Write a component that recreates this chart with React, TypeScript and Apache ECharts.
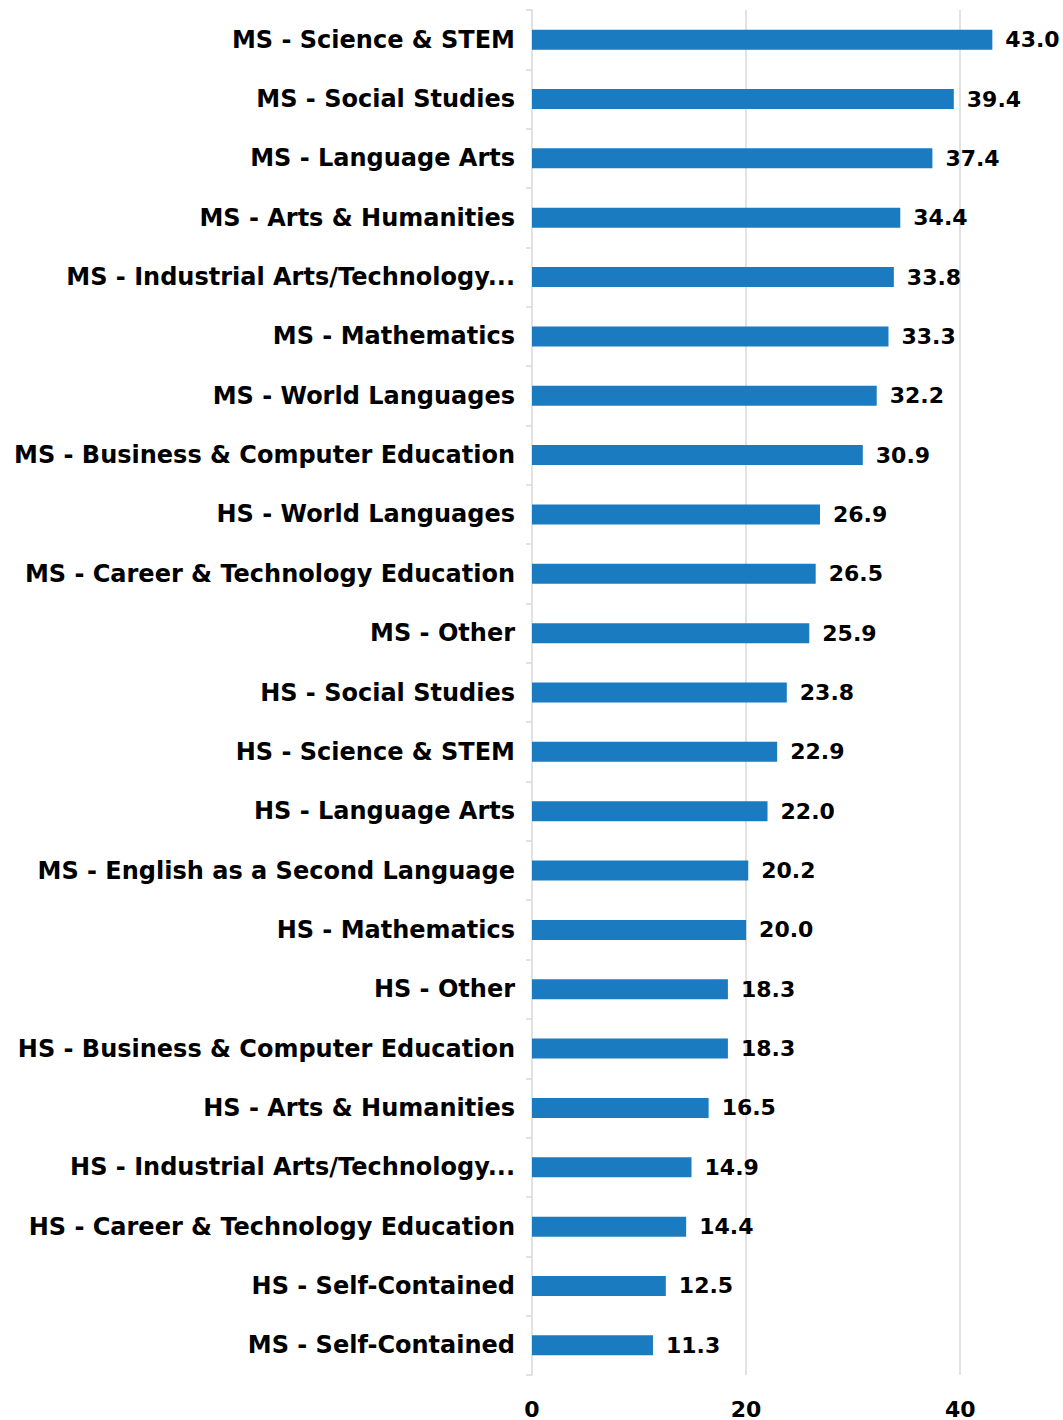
import React, { useEffect, useRef } from "react";
import * as echarts from "echarts";

const categories: string[] = [
  "MS - Science & STEM",
  "MS - Social Studies",
  "MS - Language Arts",
  "MS - Arts & Humanities",
  "MS - Industrial Arts/Technology...",
  "MS - Mathematics",
  "MS - World Languages",
  "MS - Business & Computer Education",
  "HS - World Languages",
  "MS - Career & Technology Education",
  "MS - Other",
  "HS - Social Studies",
  "HS - Science & STEM",
  "HS - Language Arts",
  "MS - English as a Second Language",
  "HS - Mathematics",
  "HS - Other",
  "HS - Business & Computer Education",
  "HS - Arts & Humanities",
  "HS - Industrial Arts/Technology...",
  "HS - Career & Technology Education",
  "HS - Self-Contained",
  "MS - Self-Contained",
];

const values: number[] = [
  43.0, 39.4, 37.4, 34.4, 33.8, 33.3, 32.2, 30.9, 26.9, 26.5, 25.9, 23.8, 22.9,
  22.0, 20.2, 20.0, 18.3, 18.3, 16.5, 14.9, 14.4, 12.5, 11.3,
];

const FONT = "'DejaVu Sans', sans-serif";

export default function App() {
  const ref = useRef<HTMLDivElement>(null);
  useEffect(() => {
    if (!ref.current) return;
    const chart = echarts.init(ref.current, null, { renderer: "svg" });
    chart.setOption({
      animation: false,
      grid: { left: 532, right: 0, top: 10, bottom: 45, containLabel: false },
      xAxis: {
        type: "value",
        min: 0,
        max: 49.6,
        interval: 20,
        axisLine: { show: false },
        axisTick: { show: false },
        splitLine: {
          show: true,
          showMinLine: false,
          showMaxLine: false,
          lineStyle: { color: "#d9d9d9", width: 1.5 },
        },
        axisLabel: {
          showMaxLabel: false,
          color: "#000",
          fontFamily: FONT,
          fontWeight: "bold",
          fontSize: 22,
          margin: 23,
        },
      },
      yAxis: {
        type: "category",
        data: categories,
        inverse: true,
        axisLine: { show: true, lineStyle: { color: "#d9d9d9", width: 1.5 } },
        axisTick: { show: true, length: 6, lineStyle: { color: "#d9d9d9", width: 1.5 } },
        axisLabel: {
          color: "#000",
          fontFamily: FONT,
          fontWeight: "bold",
          fontSize: 24,
          margin: 17,
        },
      },
      series: [
        {
          type: "bar",
          data: values,
          barWidth: 20,
          itemStyle: { color: "#1a7bc0" },
          label: {
            show: true,
            position: "right",
            distance: 13,
            color: "#000",
            fontFamily: FONT,
            fontWeight: "bold",
            fontSize: 22,
            formatter: (p: any) => Number(p.value).toFixed(1),
          },
        },
      ],
    });
    return () => chart.dispose();
  }, []);
  return (
    <div
      ref={ref}
      style={{ position: "absolute", left: 0, top: 0, width: 1063, height: 1420 }}
    />
  );
}
